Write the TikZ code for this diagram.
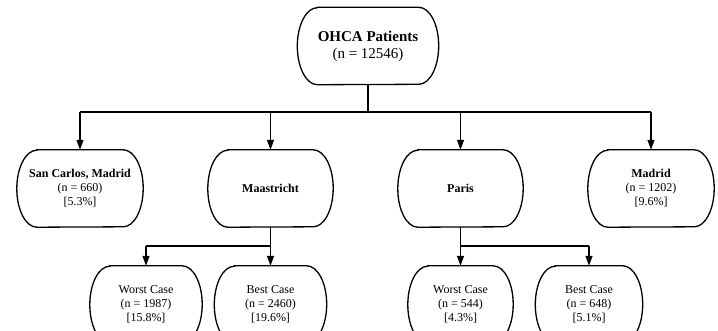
\documentclass[tikz,border=0pt]{standalone}
\usepackage{fontspec}
\setmainfont{Liberation Serif}
\usetikzlibrary{calc,arrows.meta,positioning}

\tikzset{
  box/.style={align=center, minimum height=77pt, inner sep=2pt, font=\fontsize{12}{14}\selectfont},
  outline/.style={line width=1.3pt},
  flow/.style={line width=1.3pt, -{Triangle[length=10pt,width=7pt]}},
  link/.style={line width=1.3pt},
}

\begin{document}
\begin{tikzpicture}[x=1pt,y=-1pt]
    \useasboundingbox (0,0) rectangle (718,330);

    % root
    \node[box, minimum width=141pt, font=\fontsize{15}{17}\selectfont] (root) at (368,46) {\textbf{OHCA Patients}\\(n = 12546)};

    % cities
    \node[box, minimum width=126pt] (sancarlos) at (80,188.5) {\textbf{San Carlos, Madrid}\\(n = 660)\\{[5.3\%]}};
    \node[box, minimum width=125pt] (maastricht) at (270.5,188.5) {\textbf{Maastricht}};
    \node[box, minimum width=125pt] (paris) at (460.5,188.5) {\textbf{Paris}};
    \node[box, minimum width=126pt] (madrid) at (651,188.5) {\textbf{Madrid}\\(n = 1202)\\{[9.6\%]}};

    % cases
    \node[box, minimum width=112pt] (mworst) at (146,304.5) {Worst Case\\(n = 1987)\\{[15.8\%]}};
    \node[box, minimum width=112pt] (mbest) at (270.5,304.5) {Best Case\\(n = 2460)\\{[19.6\%]}};
    \node[box, minimum width=105pt] (pworst) at (460.5,304.5) {Worst Case\\(n = 544)\\{[4.3\%]}};
    \node[box, minimum width=107pt] (pbest) at (589,304.5) {Best Case\\(n = 648)\\{[5.1\%]}};

    % capsule outlines
    \foreach \n in {root,sancarlos,maastricht,paris,madrid,mworst,mbest,pworst,pbest}
        \draw[outline] ($(\n.north west)+(20,0)$) -- ($(\n.north east)+(-20,0)$)
            arc[start angle=90, end angle=-90, x radius=20pt, y radius=38.5pt]
            -- ($(\n.south west)+(20,0)$)
            arc[start angle=270, end angle=90, x radius=20pt, y radius=38.5pt] -- cycle;

    % connectors
    \coordinate (split) at (368,112);
    \draw[link] (root) -- (split);
    \draw[link] (sancarlos.north |- split) -- (madrid.north |- split);
    \foreach \city in {sancarlos,maastricht,paris,madrid}
        \draw[flow] (\city.north |- split) -- (\city.north);

    \coordinate (msplit) at (270.5,246);
    \draw[link] (maastricht) -- (msplit) -- (mworst.north |- msplit);
    \draw[flow] (mworst.north |- msplit) -- (mworst.north);
    \draw[flow] (msplit) -- (mbest.north);

    \coordinate (psplit) at (460.5,246);
    \draw[link] (paris) -- (psplit) -- (pbest.north |- psplit);
    \draw[flow] (psplit) -- (pworst.north);
    \draw[flow] (pbest.north |- psplit) -- (pbest.north);
\end{tikzpicture}
\end{document}
